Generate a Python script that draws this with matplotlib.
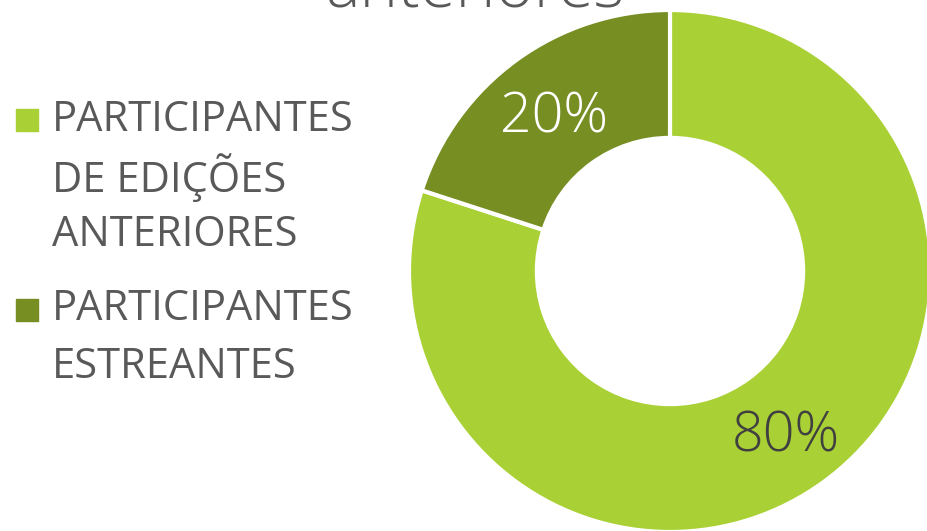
import matplotlib
matplotlib.use('Agg')
import matplotlib.pyplot as plt

# data
labels = ['PARTICIPANTES\nDE EDIÇÕES\nANTERIORES', 'PARTICIPANTES\nESTREANTES']
values = [80, 20]
colors = ['#A9D034', '#768E22']
pct_colors = ['#404040', 'white']
title = 'anteriores'

W, H = 927, 531
fig = plt.figure(figsize=(W / 100, H / 100), dpi=100)

# donut axes: center (670, 271) px, radius 261 px
cx, cy, r = 670, 271, 261
ax = fig.add_axes([(cx - r) / W, (H - cy - r) / H, 2 * r / W, 2 * r / H])
wedges, texts, autotexts = ax.pie(values, colors=colors, startangle=90, counterclock=False,
                                  autopct='%d%%', pctdistance=0.755,
                                  wedgeprops=dict(width=0.49, edgecolor='white', linewidth=3),
                                  textprops=dict(fontsize=40, family='Open Sans', fontweight='light'))
for t, c in zip(autotexts, pct_colors):
    t.set_color(c)
    t.set_va('center_baseline')
ax.set_xlim(-1, 1)
ax.set_ylim(-1, 1)
ax.set_aspect('equal')
ax.axis('off')

# cut off title at top
fig.text(475 / W, 1 - 8 / H, title, ha='center', va='baseline', fontsize=47,
         family='Open Sans', fontweight='light', color='#595959')

# legend drawn by hand
y0 = 120
for lab, col in zip(labels, colors):
    fig.patches.append(plt.Rectangle((16 / W, 1 - (y0 + 11) / H), 22 / W, 22 / H,
                                     transform=fig.transFigure, color=col))
    lines = lab.split('\n')
    for i, ln in enumerate(lines):
        fig.text(52 / W, 1 - (y0 + i * 57.5) / H, ln, ha='left', va='center', fontsize=30,
                 family='Open Sans', color='#595959')
    y0 += len(lines) * 57.5 + 17

fig.savefig('out.png', dpi=100)
